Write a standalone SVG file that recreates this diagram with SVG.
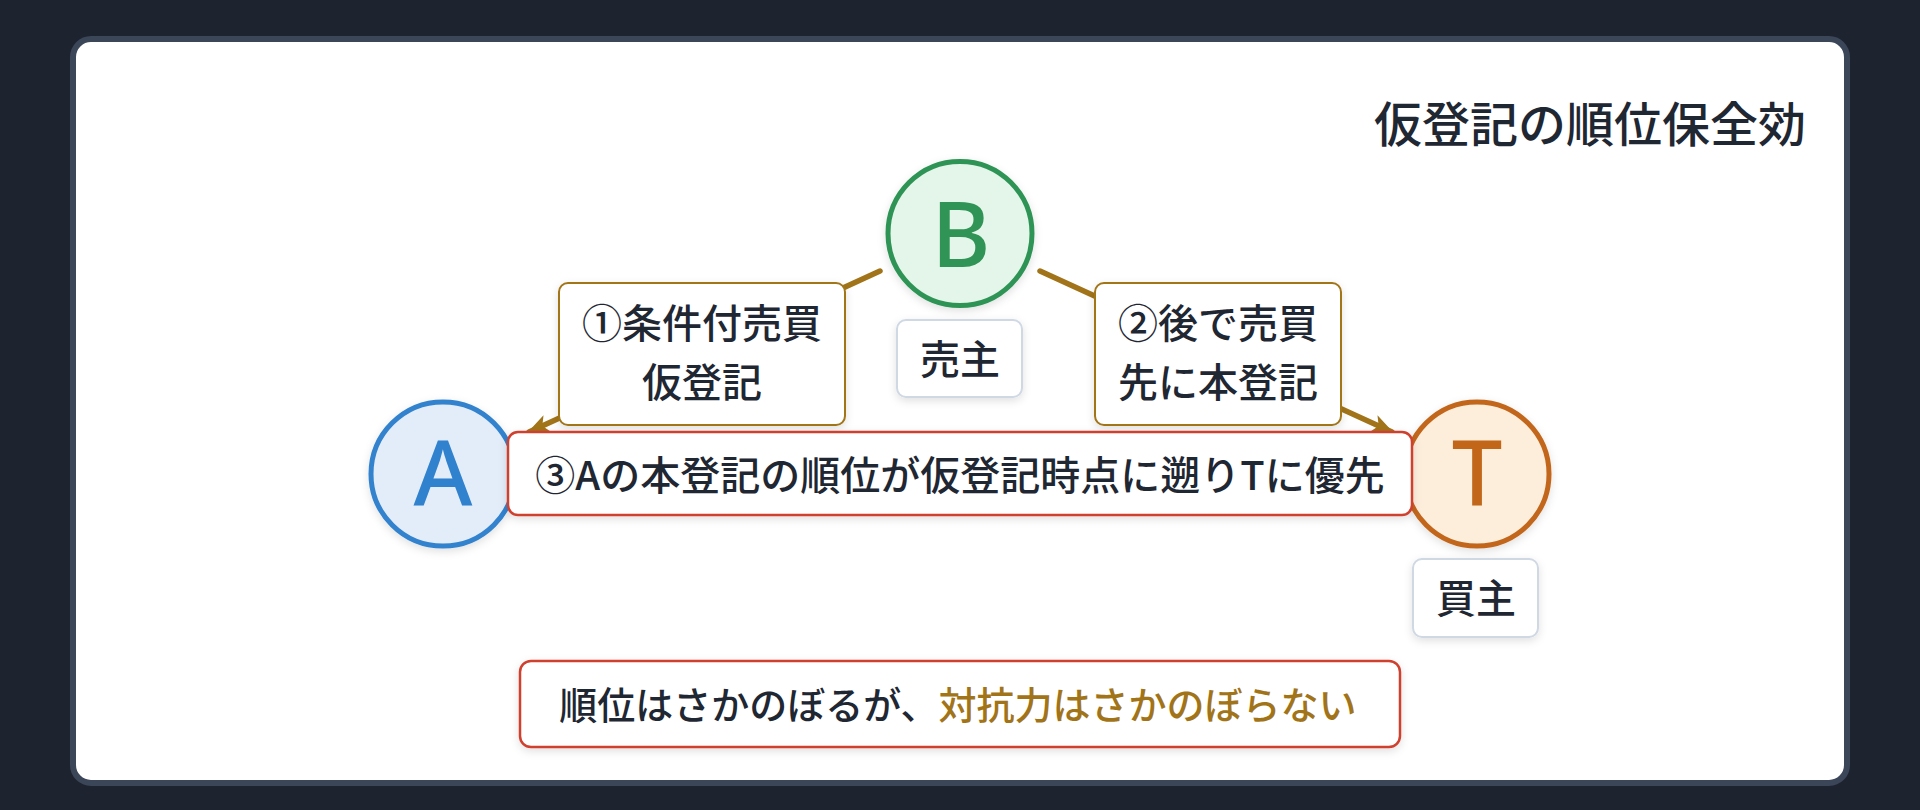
<svg xmlns="http://www.w3.org/2000/svg" width="1920" height="810" viewBox="0 0 1920 810">
  <defs>
    <filter id="sh" x="-20%" y="-20%" width="140%" height="150%">
      <feDropShadow dx="0" dy="3" stdDeviation="4" flood-color="#000" flood-opacity="0.12"/>
    </filter>
    <marker id="arr" viewBox="0 0 12 10" refX="11" refY="5" markerWidth="4" markerHeight="3.4" orient="auto" markerUnits="strokeWidth">
      <path d="M0,0 L12,5 L0,10 L3,5 z" fill="#a27419"/>
    </marker>
    <style>
      .jp { font-family: "Noto Sans CJK JP", "Noto Sans", sans-serif; fill: #1f2733; }
      .lbl { font-size: 40px; font-weight: 500; text-anchor: middle; }
      .edge { fill: #ffffff; stroke: #a27419; stroke-width: 2; }
      .role { fill: #ffffff; stroke: #cfd8e3; stroke-width: 2; }
      .note { fill: #ffffff; stroke: #d0402f; stroke-width: 2.5; }
      .conn { stroke: #a27419; stroke-width: 5.5; stroke-linecap: round; fill: none; marker-end: url(#arr); }
      .letter { font-family: "Noto Sans", "DejaVu Sans", sans-serif; font-size: 90px; font-weight: 500; text-anchor: middle; }
    </style>
  </defs>

  <rect width="1920" height="810" fill="#1e242f"/>
  <rect x="73" y="39" width="1774" height="744" rx="18" fill="#ffffff" stroke="#3b4658" stroke-width="6"/>

  <text class="jp" x="1806" y="142" font-size="48" font-weight="500" text-anchor="end">仮登記の順位保全効</text>

  <g id="connectors">
    <line class="conn" x1="880" y1="271" x2="529" y2="432"/>
    <line class="conn" x1="1040" y1="271" x2="1392" y2="432"/>
  </g>

  <g id="label-1">
    <rect class="edge" x="559" y="283" width="286" height="142" rx="9" filter="url(#sh)"/>
    <text class="jp lbl" x="702" y="338">①条件付売買</text>
    <text class="jp lbl" x="702" y="397">仮登記</text>
  </g>

  <g id="label-2">
    <rect class="edge" x="1095" y="283" width="246" height="142" rx="9" filter="url(#sh)"/>
    <text class="jp lbl" x="1218" y="338">②後で売買</text>
    <text class="jp lbl" x="1218" y="397">先に本登記</text>
  </g>

  <g id="node-B">
    <circle cx="960" cy="233.5" r="72" fill="#e4f5e9" stroke="#2f9455" stroke-width="5" filter="url(#sh)"/>
    <text class="letter" x="961" y="267" fill="#2f9455">B</text>
  </g>

  <g id="role-B">
    <rect class="role" x="897" y="320" width="125" height="77" rx="9" filter="url(#sh)"/>
    <text class="jp lbl" x="960" y="374">売主</text>
  </g>

  <g id="node-A">
    <circle cx="443" cy="474" r="72" fill="#e3edf9" stroke="#3182ce" stroke-width="5" filter="url(#sh)"/>
    <text class="letter" x="443" y="506" fill="#3182ce">A</text>
  </g>

  <g id="node-T">
    <circle cx="1477" cy="474" r="72" fill="#fdeedc" stroke="#c2661a" stroke-width="5" filter="url(#sh)"/>
    <text class="letter" x="1477" y="506" fill="#c2661a">T</text>
  </g>

  <g id="role-T">
    <rect class="role" x="1413" y="559" width="125" height="78" rx="9" filter="url(#sh)"/>
    <text class="jp lbl" x="1476" y="613">買主</text>
  </g>

  <g id="label-3">
    <rect class="note" x="508" y="432" width="904" height="83" rx="10" filter="url(#sh)"/>
    <text class="jp lbl" x="960" y="490">③Aの本登記の順位が仮登記時点に遡りTに優先</text>
  </g>

  <g id="summary">
    <rect class="note" x="520" y="661" width="880" height="86" rx="11" filter="url(#sh)"/>
    <text class="jp" x="958" y="719" font-size="38" font-weight="500" text-anchor="middle">順位はさかのぼるが、<tspan fill="#a27419">対抗力はさかのぼらない</tspan></text>
  </g>
</svg>
